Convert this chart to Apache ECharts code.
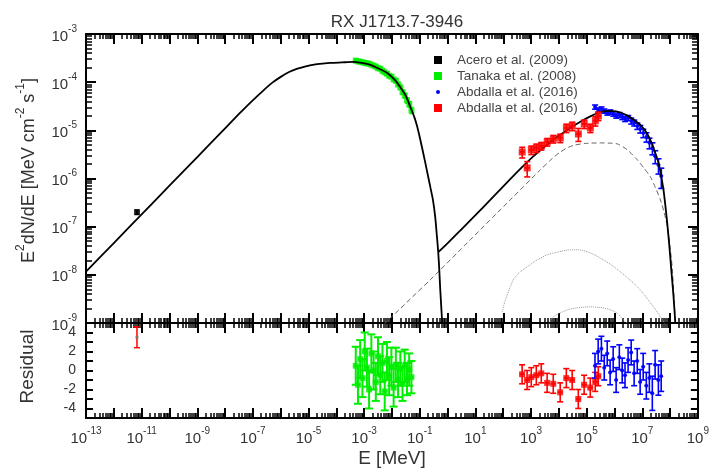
<!DOCTYPE html>
<html>
<head>
<meta charset="utf-8">
<script src="https://cdn.jsdelivr.net/npm/echarts@6/dist/echarts.min.js"></script>
<style>
  html, body { margin: 0; padding: 0; background: #fff; }
  #chart { width: 712px; height: 470px; }
</style>
</head>
<body>
<div id="chart"></div>
<script>
// ---- data ----
// x tick labels are powers of ten (MeV), y tick labels powers of ten (MeV cm^-2 s^-1)
const xTickExp = [-13, -11, -9, -7, -5, -3, -1, 1, 3, 5, 7, 9];
const yTickExp = [-9, -8, -7, -6, -5, -4, -3];
const resTicks = [-4, -2, 0, 2, 4];

// model curves as log10(E/MeV), log10(E^2 dN/dE)
const synchLogE = [-13, -12, -11, -10, -9, -8.0, -7.5, -7.2, -6.9, -6.6, -6.3, -6.0, -5.7, -5.4, -5.1, -4.8, -4.5, -4.2, -3.8, -3.4, -3.1, -2.78, -2.45, -2.17, -1.9, -1.705, -1.5, -1.345, -1.2, -1.09, -0.98, -0.878, -0.75, -0.626, -0.53, -0.446, -0.39, -0.338, -0.30, -0.266, -0.19];
const synchLogF = [-7.935, -7.34, -6.745, -6.15, -5.555, -4.96, -4.66, -4.485, -4.32, -4.16, -4.01, -3.89, -3.79, -3.72, -3.67, -3.635, -3.615, -3.60, -3.59, -3.58, -3.60, -3.64, -3.726, -3.81, -3.954, -4.10, -4.286, -4.51, -4.72, -4.93, -5.20, -5.47, -5.82, -6.17, -6.44, -6.80, -7.17, -7.53, -7.90, -8.30, -9.05];

const totalLogE = [-0.338, 0.022, 0.453, 1.0, 1.532, 2.07, 2.612, 3.06, 3.511, 3.96, 4.41, 4.77, 5.13, 5.40, 5.67, 5.94, 6.21, 6.48, 6.75, 6.93, 7.11, 7.24, 7.36, 7.47, 7.58, 7.67, 7.76, 7.83, 7.90, 7.97, 8.04, 8.12, 8.19];
const totalLogF = [-7.53, -7.33, -7.08, -6.76, -6.444, -6.12, -5.80, -5.55, -5.33, -5.13, -4.95, -4.82, -4.71, -4.64, -4.60, -4.60, -4.63, -4.70, -4.805, -4.89, -5.012, -5.14, -5.303, -5.48, -5.676, -5.93, -6.237, -6.58, -6.963, -7.40, -7.896, -8.45, -9.05];

const icLogE = [-2.3, -0.626, 0.813, 2.25, 3.33, 3.75, 4.05, 4.35, 4.59, 5.0, 5.49, 5.8, 6.10, 6.45, 6.82, 7.05, 7.29, 7.47, 7.65, 7.78, 7.90, 7.99, 8.08, 8.19];
const icLogF = [-9.03, -8.104, -7.274, -6.444, -5.822, -5.59, -5.45, -5.35, -5.303, -5.27, -5.261, -5.265, -5.282, -5.40, -5.614, -5.78, -5.967, -6.19, -6.444, -6.70, -7.004, -7.40, -7.896, -9.05];

const compALogE = [1.96, 2.05, 2.144, 2.25, 2.36, 2.48, 2.61, 2.86, 3.22, 3.58, 3.98, 4.41, 4.7, 5.02, 5.3, 5.60, 5.9, 6.21, 6.5, 6.82, 7.05, 7.29, 7.47, 7.65, 7.83];
const compALogF = [-8.77, -8.57, -8.415, -8.25, -8.104, -8.01, -7.938, -7.834, -7.689, -7.585, -7.523, -7.481, -7.48, -7.523, -7.59, -7.689, -7.80, -7.938, -8.08, -8.249, -8.40, -8.581, -8.72, -8.871, -9.04];

const compBLogE = [3.6, 3.8, 4.05, 4.35, 4.66, 5.13, 5.5, 5.85, 6.1, 6.32, 6.57];
const compBLogF = [-9.05, -8.871, -8.788, -8.72, -8.685, -8.664, -8.68, -8.726, -8.80, -8.934, -9.06];

// Acero et al. (2009)
const aceroE = [6.8e-12];
const aceroF = [2.0e-7];
const aceroRel = [0.1];
const aceroRes = [3.5];
const aceroResErr = [1.1];

// Tanaka et al. (2008)
const tanakaE = [5.0e-4, 6.0e-4, 7.2e-4, 8.7e-4, 1.05e-3, 1.26e-3, 1.51e-3, 1.82e-3, 2.19e-3, 2.63e-3, 3.16e-3, 3.80e-3, 4.57e-3, 5.50e-3, 6.61e-3, 7.94e-3, 9.55e-3, 1.15e-2, 1.38e-2, 1.66e-2, 2.00e-2, 2.40e-2, 2.88e-2, 3.47e-2, 4.17e-2, 5.01e-2];
const tanakaF = [2.80e-4, 2.70e-4, 2.66e-4, 2.58e-4, 2.52e-4, 2.47e-4, 2.41e-4, 2.30e-4, 2.20e-4, 2.10e-4, 1.95e-4, 1.90e-4, 1.72e-4, 1.60e-4, 1.50e-4, 1.36e-4, 1.30e-4, 1.14e-4, 1.07e-4, 9.0e-5, 7.8e-5, 6.2e-5, 5.3e-5, 4.2e-5, 3.5e-5, 2.6e-5];
const tanakaRel = [0.07, 0.07, 0.07, 0.07, 0.07, 0.07, 0.07, 0.07, 0.07, 0.07, 0.07, 0.07, 0.07, 0.07, 0.07, 0.07, 0.08, 0.08, 0.08, 0.09, 0.09, 0.1, 0.11, 0.12, 0.13, 0.14];
const tanakaRes = [0.5, -1.5, 1.2, -0.8, 2.0, 0.3, -2.0, 1.8, 0.0, -1.2, 1.5, -0.5, 0.8, -2.2, 1.0, -0.6, 0.4, -1.8, 0.6, -1.0, 0.2, -1.4, 0.5, -0.9, 0.1, -0.7];
const tanakaResErr = [2.0, 2.0, 2.0, 2.0, 2.0, 2.0, 2.0, 2.0, 2.0, 2.0, 2.0, 2.0, 2.0, 2.0, 2.0, 2.0, 2.0, 2.0, 1.8, 1.8, 1.8, 1.8, 1.7, 1.7, 1.7, 1.7];

// Abdalla et al. (2016), TeV points (blue)
const hessE = [2.0e5, 2.6e5, 3.4e5, 4.3e5, 5.5e5, 7.0e5, 9.0e5, 1.15e6, 1.5e6, 1.9e6, 2.4e6, 3.1e6, 4.0e6, 5.1e6, 6.6e6, 8.4e6, 1.08e7, 1.4e7, 1.8e7, 2.3e7, 2.9e7, 3.8e7, 4.8e7];
const hessF = [3.05e-5, 2.65e-5, 2.78e-5, 2.52e-5, 2.30e-5, 2.41e-5, 2.19e-5, 1.99e-5, 2.09e-5, 1.90e-5, 1.73e-5, 1.81e-5, 1.57e-5, 1.43e-5, 1.23e-5, 1.07e-5, 8.8e-6, 7.3e-6, 5.5e-6, 4.3e-6, 2.9e-6, 1.9e-6, 1.13e-6];
const hessRel = [0.1, 0.1, 0.1, 0.1, 0.1, 0.1, 0.1, 0.1, 0.12, 0.12, 0.12, 0.12, 0.14, 0.14, 0.15, 0.18, 0.2, 0.22, 0.25, 0.28, 0.3, 0.35, 0.45];
const hessRes = [0.5, 2.0, 2.3, 0.3, 1.8, -0.2, 1.2, -1.0, 1.4, 0.0, -0.5, 1.1, 1.9, -0.3, 1.0, -1.2, 0.4, -1.6, -0.8, -2.4, 0.6, -1.0, -0.6];
const hessResErr = [1.3, 1.3, 1.3, 1.3, 1.3, 1.3, 1.3, 1.3, 1.3, 1.3, 1.3, 1.3, 1.3, 1.3, 1.3, 1.3, 1.4, 1.4, 1.5, 1.8, 1.5, 1.6, 1.6];

// Abdalla et al. (2016), GeV points (red)
const latE = [479, 724, 1.02e3, 1.55e3, 2.34e3, 3.80e3, 6.31e3, 1.12e4, 1.86e4, 3.02e4, 5.01e4, 8.13e4, 1.35e5, 2.04e5, 2.63e5];
const latF = [3.56e-6, 1.66e-6, 3.92e-6, 4.32e-6, 4.74e-6, 5.74e-6, 6.64e-6, 6.95e-6, 1.12e-5, 1.23e-5, 8.41e-6, 1.36e-5, 1.12e-5, 1.57e-5, 1.99e-5];
const latRel = [0.25, 0.35, 0.2, 0.2, 0.18, 0.18, 0.18, 0.2, 0.2, 0.2, 0.3, 0.2, 0.2, 0.22, 0.2];
const latRes = [-0.4, -1.0, -0.7, -0.5, -0.3, -1.3, -1.4, -2.3, -0.8, -1.0, -3.0, -1.5, -1.8, -1.2, -0.6];
const latResErr = [1.0, 1.0, 1.0, 1.0, 1.0, 1.0, 1.0, 1.0, 1.0, 1.0, 1.0, 1.0, 1.0, 1.0, 1.0];

// ---- helpers ----
const lg = Math.log10;
const FONT = 'Liberation Sans, Arial, sans-serif';
const TXT = '#333';
const xMin = xTickExp[0], xMax = xTickExp[xTickExp.length - 1];
const yMin = yTickExp[0], yMax = yTickExp[yTickExp.length - 1];

function pairs(a, b) { return a.map((v, i) => [v, b[i]]); }
function points(E, F) { return E.map((e, i) => [lg(e), lg(F[i])]); }
function errs(E, F, rel, bin) {
  return E.map((e, i) => [lg(e), lg(F[i]), lg(e) - bin, lg(e) + bin, lg(F[i] * (1 - rel[i])), lg(F[i] * (1 + rel[i]))]);
}
function resErrs(E, R, RE, bin) {
  return E.map((e, i) => [lg(e), R[i], lg(e) - bin, lg(e) + bin, R[i] - RE[i], R[i] + RE[i]]);
}
function minorTicks(lo, hi) {
  const out = [];
  for (let d = lo; d < hi; d++) for (let k = 2; k < 10; k++) out.push(d + lg(k));
  return out;
}
const minorX = minorTicks(xMin, xMax);
const minorY = minorTicks(yMin, yMax);

function errorBars(color, lw, cap) {
  return function (params, api) {
    const c = api.coord([api.value(0), api.value(1)]);
    const l = api.coord([api.value(2), api.value(1)]);
    const r = api.coord([api.value(3), api.value(1)]);
    const lo = api.coord([api.value(0), api.value(4)]);
    const hi = api.coord([api.value(0), api.value(5)]);
    const st = { stroke: color, lineWidth: lw };
    return {
      type: 'group',
      children: [
        { type: 'line', shape: { x1: l[0], y1: c[1], x2: r[0], y2: c[1] }, style: st },
        { type: 'line', shape: { x1: c[0], y1: lo[1], x2: c[0], y2: hi[1] }, style: st },
        { type: 'line', shape: { x1: c[0] - cap, y1: lo[1], x2: c[0] + cap, y2: lo[1] }, style: st },
        { type: 'line', shape: { x1: c[0] - cap, y1: hi[1], x2: c[0] + cap, y2: hi[1] }, style: st }
      ]
    };
  };
}

const supRich = {
  b: { fontSize: 15, fontFamily: FONT, color: TXT, padding: [5, 0, 0, 0], verticalAlign: 'bottom' },
  s: { fontSize: 10, fontFamily: FONT, color: TXT, verticalAlign: 'top' }
};
function powLabel(v) { return '{b|10}{s|' + Math.round(v) + '}'; }

function xAx(grid, pos, minor, labels) {
  const ax = {
    type: 'value', gridIndex: grid, position: pos, min: xMin, max: xMax, interval: 1,
    axisLine: { show: !minor, onZero: false, lineStyle: { color: '#000', width: 2 } },
    axisTick: { show: true, inside: true, length: minor ? 5 : 10, lineStyle: { color: '#000', width: minor ? 1.5 : 2 } },
    axisLabel: { show: false },
    splitLine: { show: false }
  };
  if (minor) ax.axisTick.customValues = minorX;
  if (labels) {
    ax.axisLabel = {
      show: true, interval: 0, margin: 8,
      formatter: v => (xTickExp.indexOf(Math.round(v)) >= 0 ? powLabel(v) : ''),
      rich: supRich
    };
    ax.name = 'E [MeV]';
    ax.nameLocation = 'middle';
    ax.nameGap = 31;
    ax.nameTextStyle = { fontSize: 19, fontFamily: FONT, color: TXT };
  }
  return ax;
}
function yTopAx(pos, minor, labels) {
  const ax = {
    type: 'value', gridIndex: 0, position: pos, min: yMin, max: yMax, interval: 1,
    axisLine: { show: !minor, onZero: false, lineStyle: { color: '#000', width: 2 } },
    axisTick: { show: true, inside: true, length: minor ? 6 : 10, lineStyle: { color: '#000', width: minor ? 1.5 : 2 } },
    axisLabel: { show: false },
    splitLine: { show: false }
  };
  if (minor) ax.axisTick.customValues = minorY;
  if (labels) {
    ax.axisLabel = { show: true, margin: 9, formatter: powLabel, rich: supRich };
    ax.name = '{b|E}{s|2}{b|dN/dE [MeV cm}{s|-2}{b| s}{s|-1}{b|]}';
    ax.nameLocation = 'middle';
    ax.nameGap = 48;
    ax.nameTextStyle = {
      padding: [0, 0, 0, 16],
      rich: {
        b: { fontSize: 18, fontFamily: FONT, color: TXT, padding: [5, 0, 0, 0], verticalAlign: 'bottom' },
        s: { fontSize: 12, fontFamily: FONT, color: TXT, verticalAlign: 'top' }
      }
    };
  }
  return ax;
}
function yResAx(pos, labels) {
  const ax = {
    type: 'value', gridIndex: 1, position: pos, min: -5, max: 5, interval: 1,
    axisLine: { show: true, onZero: false, lineStyle: { color: '#000', width: 2 } },
    axisTick: { show: true, inside: true, length: 7, lineStyle: { color: '#000', width: 2 } },
    axisLabel: { show: false },
    splitLine: { show: false }
  };
  if (labels) {
    ax.axisLabel = {
      show: true, margin: 10, fontSize: 14, fontFamily: FONT, color: TXT,
      formatter: v => { const n = Math.round(v); return resTicks.indexOf(n) >= 0 ? String(n) : ''; }
    };
    ax.name = 'Residual';
    ax.nameLocation = 'middle';
    ax.nameGap = 49;
    ax.nameTextStyle = { fontSize: 19, fontFamily: FONT, color: TXT, padding: [0, 0, 0, 8] };
  }
  return ax;
}

const SQ = 'path://M0,0M24,8M6,0h8v8h-8z';
const DOT = 'path://M0,0M24,8M8,4a2,2 0 1,0 4,0a2,2 0 1,0 -4,0z';
const GREEN = '#00ee00', BLUE = '#0000ff', RED = '#ff0000';
const SMOOTH = 0.25;

const chart = echarts.init(document.getElementById('chart'));
chart.setOption({
  animation: false,
  backgroundColor: '#fff',
  title: {
    text: 'RX J1713.7-3946', left: 392, top: 9, textAlign: 'center',
    textStyle: { fontSize: 17, fontWeight: 'normal', fontFamily: FONT, color: TXT }
  },
  legend: {
    orient: 'vertical', left: 423, top: 48, itemWidth: 24, itemHeight: 8, itemGap: 2,
    selectedMode: false,
    textStyle: { fontSize: 13.5, fontFamily: FONT, color: '#444' },
    data: [
      { name: 'Acero et al. (2009)', icon: SQ, itemStyle: { color: '#000' } },
      { name: 'Tanaka et al. (2008)', icon: SQ, itemStyle: { color: GREEN } },
      { name: 'Abdalla et al. (2016)', icon: DOT, itemStyle: { color: BLUE } },
      { name: 'Abdalla et al. (2016) ', icon: SQ, itemStyle: { color: RED } }
    ]
  },
  grid: [
    { left: 86, top: 34, width: 612, height: 289 },
    { left: 86, top: 323, width: 612, height: 95 }
  ],
  xAxis: [
    xAx(0, 'bottom', false, false), xAx(0, 'bottom', true, false),
    xAx(0, 'top', false, false), xAx(0, 'top', true, false),
    xAx(1, 'bottom', false, true), xAx(1, 'bottom', true, false),
    xAx(1, 'top', false, false), xAx(1, 'top', true, false)
  ],
  yAxis: [
    yTopAx('left', false, true), yTopAx('left', true, false),
    yTopAx('right', false, false), yTopAx('right', true, false),
    yResAx('left', true), yResAx('right', false)
  ],
  series: [
    { type: 'line', name: 'IC', data: pairs(icLogE, icLogF), smooth: SMOOTH, showSymbol: false, z: 1,
      lineStyle: { color: '#666', width: 1, type: [5, 3] } },
    { type: 'line', name: 'compA', data: pairs(compALogE, compALogF), smooth: SMOOTH, showSymbol: false, z: 1,
      lineStyle: { color: '#999', width: 1, type: 'dotted' } },
    { type: 'line', name: 'compB', data: pairs(compBLogE, compBLogF), smooth: SMOOTH, showSymbol: false, z: 1,
      lineStyle: { color: '#999', width: 1, type: 'dotted' } },

    // data, top panel
    { type: 'custom', name: 'Tanaka et al. (2008)', renderItem: errorBars(GREEN, 1.6, 2), data: errs(tanakaE, tanakaF, tanakaRel, 0.06),
      itemStyle: { color: GREEN }, z: 2 },
    { type: 'scatter', name: 'Tanaka et al. (2008)', data: points(tanakaE, tanakaF), symbol: 'rect', symbolSize: 6, itemStyle: { color: GREEN }, z: 2 },
    { type: 'custom', name: 'Abdalla et al. (2016)', renderItem: errorBars(BLUE, 1.6, 3), data: errs(hessE, hessF, hessRel, 0.06),
      itemStyle: { color: BLUE }, z: 2 },
    { type: 'scatter', name: 'Abdalla et al. (2016)', data: points(hessE, hessF), symbol: 'circle', symbolSize: 4, itemStyle: { color: BLUE }, z: 2 },

    { type: 'line', name: 'synch', data: pairs(synchLogE, synchLogF), smooth: SMOOTH, showSymbol: false, z: 3,
      lineStyle: { color: '#000', width: 1.8 } },
    { type: 'line', name: 'total', data: pairs(totalLogE, totalLogF), smooth: SMOOTH, showSymbol: false, z: 3,
      lineStyle: { color: '#000', width: 1.8 } },

    { type: 'custom', name: 'Abdalla et al. (2016) ', renderItem: errorBars(RED, 1.6, 3), data: errs(latE, latF, latRel, 0.09),
      itemStyle: { color: RED }, z: 4 },
    { type: 'scatter', name: 'Abdalla et al. (2016) ', data: points(latE, latF), symbol: 'rect', symbolSize: 7, itemStyle: { color: RED }, z: 4 },
    { type: 'custom', name: 'Acero et al. (2009)', renderItem: errorBars('#000', 1.5, 2), data: errs(aceroE, aceroF, aceroRel, 0.05),
      itemStyle: { color: '#000' }, z: 4 },
    { type: 'scatter', name: 'Acero et al. (2009)', data: points(aceroE, aceroF), symbol: 'rect', symbolSize: 6, itemStyle: { color: '#000' }, z: 4 },

    // residuals
    { type: 'custom', name: 'res-acero', xAxisIndex: 4, yAxisIndex: 4, clip: true, renderItem: errorBars(RED, 1.5, 3),
      data: resErrs(aceroE, aceroRes, aceroResErr, 0) },
    { type: 'scatter', name: 'res-acero-pt', xAxisIndex: 4, yAxisIndex: 4, data: aceroE.map((e, i) => [lg(e), aceroRes[i]]),
      symbol: 'rect', symbolSize: 3, itemStyle: { color: '#777' } },
    { type: 'custom', name: 'res-tanaka', xAxisIndex: 4, yAxisIndex: 4, clip: true, renderItem: errorBars(GREEN, 2, 4),
      data: resErrs(tanakaE, tanakaRes, tanakaResErr, 0.08) },
    { type: 'scatter', name: 'res-tanaka-pt', xAxisIndex: 4, yAxisIndex: 4, data: tanakaE.map((e, i) => [lg(e), tanakaRes[i]]),
      symbol: 'rect', symbolSize: 6, itemStyle: { color: GREEN } },
    { type: 'custom', name: 'res-lat', xAxisIndex: 4, yAxisIndex: 4, clip: true, renderItem: errorBars(RED, 1.6, 3),
      data: resErrs(latE, latRes, latResErr, 0.09) },
    { type: 'scatter', name: 'res-lat-pt', xAxisIndex: 4, yAxisIndex: 4, data: latE.map((e, i) => [lg(e), latRes[i]]),
      symbol: 'rect', symbolSize: 6, itemStyle: { color: RED } },
    { type: 'custom', name: 'res-hess', xAxisIndex: 4, yAxisIndex: 4, clip: true, renderItem: errorBars(BLUE, 1.6, 3),
      data: resErrs(hessE, hessRes, hessResErr, 0.06) },
    { type: 'scatter', name: 'res-hess-pt', xAxisIndex: 4, yAxisIndex: 4, data: hessE.map((e, i) => [lg(e), hessRes[i]]),
      symbol: 'circle', symbolSize: 4, itemStyle: { color: BLUE } }
  ]
});
</script>
</body>
</html>
